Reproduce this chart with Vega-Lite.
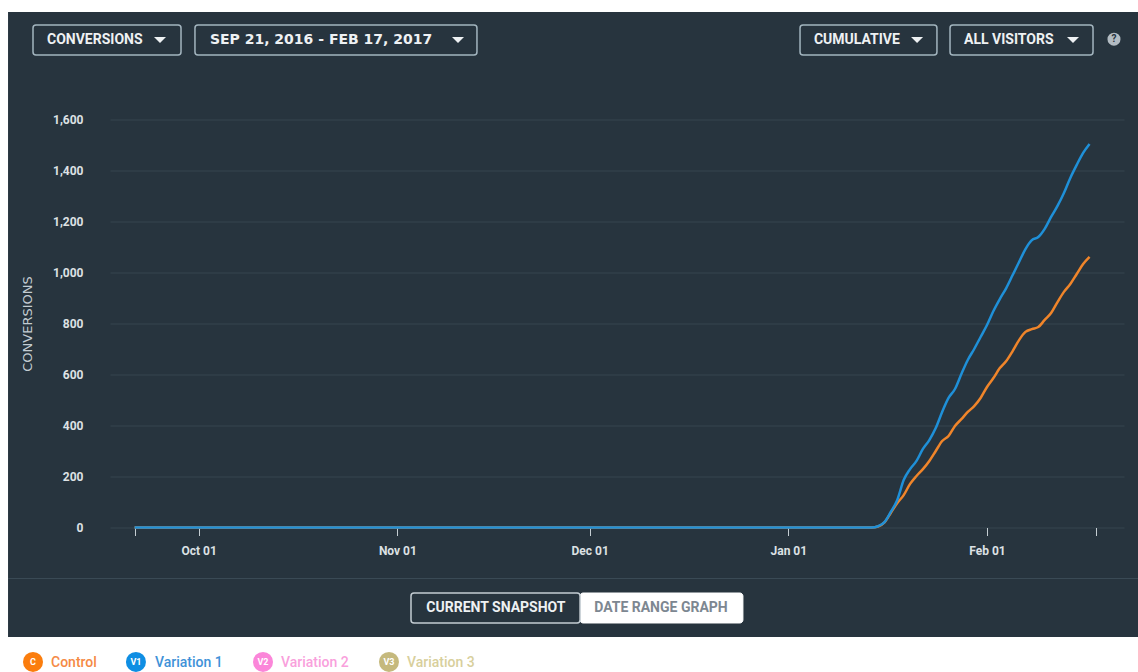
{"$schema":"https://vega.github.io/schema/vega-lite/v6.json","width":1014,"height":408,"autosize":{"type":"none"},"padding":{"left":110,"top":119.5,"right":14,"bottom":144.5},"background":"#27343e","config":{"view":{"stroke":null},"font":"Roboto"},
"datasets":{"one":[{}],"series":[
{"series":"Control","date":"2016-09-21","conversions":0},{"series":"Control","date":"2016-10-01","conversions":0},{"series":"Control","date":"2016-11-01","conversions":0},{"series":"Control","date":"2016-12-01","conversions":0},{"series":"Control","date":"2017-01-01","conversions":0},{"series":"Control","date":"2017-01-14","conversions":0},{"series":"Control","date":"2017-01-15","conversions":4},{"series":"Control","date":"2017-01-16","conversions":20},{"series":"Control","date":"2017-01-17","conversions":58},{"series":"Control","date":"2017-01-18","conversions":96},{"series":"Control","date":"2017-01-19","conversions":127},{"series":"Control","date":"2017-01-20","conversions":171},{"series":"Control","date":"2017-01-21","conversions":202},{"series":"Control","date":"2017-01-22","conversions":229},{"series":"Control","date":"2017-01-23","conversions":261},{"series":"Control","date":"2017-01-24","conversions":300},{"series":"Control","date":"2017-01-25","conversions":339},{"series":"Control","date":"2017-01-26","conversions":359},{"series":"Control","date":"2017-01-27","conversions":398},{"series":"Control","date":"2017-01-28","conversions":425},{"series":"Control","date":"2017-01-29","conversions":453},{"series":"Control","date":"2017-01-30","conversions":476},{"series":"Control","date":"2017-01-31","conversions":508},{"series":"Control","date":"2017-02-01","conversions":551},{"series":"Control","date":"2017-02-02","conversions":586},{"series":"Control","date":"2017-02-03","conversions":625},{"series":"Control","date":"2017-02-04","conversions":653},{"series":"Control","date":"2017-02-05","conversions":692},{"series":"Control","date":"2017-02-06","conversions":735},{"series":"Control","date":"2017-02-07","conversions":767},{"series":"Control","date":"2017-02-08","conversions":778},{"series":"Control","date":"2017-02-09","conversions":786},{"series":"Control","date":"2017-02-10","conversions":814},{"series":"Control","date":"2017-02-11","conversions":841},{"series":"Control","date":"2017-02-12","conversions":884},{"series":"Control","date":"2017-02-13","conversions":924},{"series":"Control","date":"2017-02-14","conversions":955},{"series":"Control","date":"2017-02-15","conversions":994},{"series":"Control","date":"2017-02-16","conversions":1033},{"series":"Control","date":"2017-02-17","conversions":1061},
{"series":"Variation 1","date":"2016-09-21","conversions":0},{"series":"Variation 1","date":"2016-10-01","conversions":0},{"series":"Variation 1","date":"2016-11-01","conversions":0},{"series":"Variation 1","date":"2016-12-01","conversions":0},{"series":"Variation 1","date":"2017-01-01","conversions":0},{"series":"Variation 1","date":"2017-01-14","conversions":0},{"series":"Variation 1","date":"2017-01-15","conversions":5},{"series":"Variation 1","date":"2017-01-16","conversions":21},{"series":"Variation 1","date":"2017-01-17","conversions":62},{"series":"Variation 1","date":"2017-01-18","conversions":108},{"series":"Variation 1","date":"2017-01-19","conversions":186},{"series":"Variation 1","date":"2017-01-20","conversions":229},{"series":"Variation 1","date":"2017-01-21","conversions":261},{"series":"Variation 1","date":"2017-01-22","conversions":308},{"series":"Variation 1","date":"2017-01-23","conversions":343},{"series":"Variation 1","date":"2017-01-24","conversions":390},{"series":"Variation 1","date":"2017-01-25","conversions":453},{"series":"Variation 1","date":"2017-01-26","conversions":508},{"series":"Variation 1","date":"2017-01-27","conversions":543},{"series":"Variation 1","date":"2017-01-28","conversions":602},{"series":"Variation 1","date":"2017-01-29","conversions":657},{"series":"Variation 1","date":"2017-01-30","conversions":700},{"series":"Variation 1","date":"2017-01-31","conversions":747},{"series":"Variation 1","date":"2017-02-01","conversions":794},{"series":"Variation 1","date":"2017-02-02","conversions":849},{"series":"Variation 1","date":"2017-02-03","conversions":896},{"series":"Variation 1","date":"2017-02-04","conversions":939},{"series":"Variation 1","date":"2017-02-05","conversions":990},{"series":"Variation 1","date":"2017-02-06","conversions":1041},{"series":"Variation 1","date":"2017-02-07","conversions":1092},{"series":"Variation 1","date":"2017-02-08","conversions":1127},{"series":"Variation 1","date":"2017-02-09","conversions":1139},{"series":"Variation 1","date":"2017-02-10","conversions":1171},{"series":"Variation 1","date":"2017-02-11","conversions":1218},{"series":"Variation 1","date":"2017-02-12","conversions":1261},{"series":"Variation 1","date":"2017-02-13","conversions":1312},{"series":"Variation 1","date":"2017-02-14","conversions":1371},{"series":"Variation 1","date":"2017-02-15","conversions":1422},{"series":"Variation 1","date":"2017-02-16","conversions":1469},{"series":"Variation 1","date":"2017-02-17","conversions":1504}
]},
"layer":[
{"data":{"name":"series"},"mark":{"type":"line","strokeWidth":2.5,"interpolate":"monotone"},"encoding":{
"x":{"field":"date","type":"temporal","scale":{"type":"utc","domain":[{"year":2016,"month":9,"date":17,"hours":3,"minutes":50,"utc":true},{"year":2017,"month":2,"date":22,"hours":9,"utc":true}]},"axis":{"title":null,"values":[{"year":2016,"month":9,"date":21,"utc":true},{"year":2016,"month":10,"date":1,"utc":true},{"year":2016,"month":11,"date":1,"utc":true},{"year":2016,"month":12,"date":1,"utc":true},{"year":2017,"month":1,"date":1,"utc":true},{"year":2017,"month":2,"date":1,"utc":true},{"year":2017,"month":2,"date":18,"utc":true}],"format":"%b %d","labelExpr":"utcdate(datum.value)==1?datum.label:''","grid":false,"domain":false,"tickColor":"#c5cdd2","tickSize":8,"tickWidth":1,"labelPadding":10,"labelFont":"Roboto","labelFontWeight":"bold","labelFontSize":12,"labelColor":"#dde1e4"}},
"y":{"field":"conversions","type":"quantitative","scale":{"domain":[0,1600],"nice":false},"axis":{"title":"CONVERSIONS","values":[0,200,400,600,800,1000,1200,1400,1600],"format":",d","grid":true,"gridColor":"#36454f","gridWidth":1,"ticks":false,"domain":false,"labelPadding":27,"labelFont":"Roboto","labelFontWeight":"bold","labelFontSize":12,"labelColor":"#dde1e4","titleFont":"DejaVu Sans","titleFontWeight":"normal","titleFontSize":13,"titleColor":"#c3ccd2","titlePadding":18}},
"color":{"field":"series","type":"nominal","sort":null,"scale":{"domain":["Control","Variation 1","Variation 2","Variation 3"],"range":["#f0852a","#1f90d8","#fb86d9","#c5b97d"]},"legend":{"title":null,"orient":"none","legendX":-87,"legendY":533,"direction":"horizontal","columns":4,"symbolType":"circle","symbolSize":400,"symbolStrokeWidth":0,"symbolOpacity":0,"symbolFillColor":"transparent","labelFont":"Roboto","labelFontWeight":500,"labelFontSize":14,"labelOffset":8,"columnPadding":30,"labelColor":{"expr":"datum.label=='Control'?'#f58a45':datum.label=='Variation 1'?'#3f92d8':datum.label=='Variation 2'?'#f9a0dc':'#d8cf9c'"}}}}},
{"data":{"name":"one"},"mark":{"type":"rect","fill":"#ffffff"},"encoding":{"x":{"datum":{"year":2016,"month":8,"date":25,"utc":true},"type":"temporal"},"x2":{"datum":{"year":2017,"month":3,"date":5,"utc":true}},"y":{"datum":2200},"y2":{"datum":2021.6}}},
{"data":{"name":"one"},"mark":{"type":"rect","fill":"#ffffff"},"encoding":{"x":{"datum":{"year":2016,"month":8,"date":25,"utc":true},"type":"temporal"},"x2":{"datum":{"year":2017,"month":3,"date":5,"utc":true}},"y":{"datum":-429.4},"y2":{"datum":-700}}},
{"data":{"name":"one"},"mark":{"type":"rect","fill":"#ffffff"},"encoding":{"x":{"datum":{"year":2016,"month":8,"date":25,"utc":true},"type":"temporal"},"x2":{"datum":{"year":2016,"month":9,"date":1,"hours":6,"utc":true}},"y":{"datum":2200},"y2":{"datum":-700}}},
{"data":{"name":"one"},"mark":{"type":"rule","stroke":"#3a4a55","strokeWidth":1},"encoding":{"x":{"datum":{"year":2016,"month":9,"date":1,"hours":6,"utc":true},"type":"temporal"},"x2":{"datum":{"year":2017,"month":3,"date":5,"utc":true}},"y":{"datum":-200}}},
{"data":{"name":"one"},"mark":{"type":"rect","fill":"transparent","stroke":"#a3b5bf","strokeWidth":1.5,"cornerRadius":3},"encoding":{"x":{"datum":{"year":2016,"month":9,"date":5,"hours":3,"minutes":30,"utc":true},"type":"temporal"},"x2":{"datum":{"year":2016,"month":9,"date":28,"hours":5,"minutes":45,"utc":true}},"y":{"datum":1970.6},"y2":{"datum":1853}}},
{"data":{"name":"one"},"mark":{"type":"rect","fill":"transparent","stroke":"#a3b5bf","strokeWidth":1.5,"cornerRadius":3},"encoding":{"x":{"datum":{"year":2016,"month":9,"date":30,"hours":10,"utc":true},"type":"temporal"},"x2":{"datum":{"year":2016,"month":11,"date":13,"hours":10,"utc":true}},"y":{"datum":1970.6},"y2":{"datum":1853}}},
{"data":{"name":"one"},"mark":{"type":"rect","fill":"transparent","stroke":"#a3b5bf","strokeWidth":1.5,"cornerRadius":3},"encoding":{"x":{"datum":{"year":2017,"month":1,"date":2,"hours":19,"minutes":50,"utc":true},"type":"temporal"},"x2":{"datum":{"year":2017,"month":1,"date":24,"hours":4,"minutes":30,"utc":true}},"y":{"datum":1970.6},"y2":{"datum":1853}}},
{"data":{"name":"one"},"mark":{"type":"rect","fill":"transparent","stroke":"#a3b5bf","strokeWidth":1.5,"cornerRadius":3},"encoding":{"x":{"datum":{"year":2017,"month":1,"date":26,"hours":5,"minutes":30,"utc":true},"type":"temporal"},"x2":{"datum":{"year":2017,"month":2,"date":17,"hours":13,"utc":true}},"y":{"datum":1970.6},"y2":{"datum":1853}}},
{"data":{"values":[{"label":"CONVERSIONS"}]},"mark":{"type":"text","align":"left","baseline":"middle","font":"Roboto","fontWeight":"bold","fontSize":14,"fill":"#eef1f3"},"encoding":{"text":{"field":"label"},"x":{"datum":{"year":2016,"month":9,"date":7,"hours":8,"utc":true},"type":"temporal"},"y":{"datum":1911.8}}},
{"data":{"values":[{"label":"SEP 21, 2016 - FEB 17, 2017"}]},"mark":{"type":"text","align":"left","baseline":"middle","font":"DejaVu Sans","fontWeight":"bold","fontSize":14,"fill":"#eef1f3"},"encoding":{"text":{"field":"label"},"x":{"datum":{"year":2016,"month":10,"date":2,"hours":18,"utc":true},"type":"temporal"},"y":{"datum":1911.8}}},
{"data":{"values":[{"label":"CUMULATIVE"}]},"mark":{"type":"text","align":"left","baseline":"middle","font":"Roboto","fontWeight":"bold","fontSize":14,"fill":"#eef1f3"},"encoding":{"text":{"field":"label"},"x":{"datum":{"year":2017,"month":1,"date":4,"hours":23,"minutes":45,"utc":true},"type":"temporal"},"y":{"datum":1911.8}}},
{"data":{"values":[{"label":"ALL VISITORS"}]},"mark":{"type":"text","align":"left","baseline":"middle","font":"Roboto","fontWeight":"bold","fontSize":14,"fill":"#eef1f3"},"encoding":{"text":{"field":"label"},"x":{"datum":{"year":2017,"month":1,"date":28,"hours":10,"utc":true},"type":"temporal"},"y":{"datum":1911.8}}},
{"data":{"name":"one"},"mark":{"type":"point","shape":"M-1,-0.5L1,-0.5L0,0.5Z","filled":true,"fill":"#eef1f3","opacity":1,"size":144},"encoding":{"x":{"datum":{"year":2016,"month":9,"date":24,"hours":23,"utc":true},"type":"temporal"},"y":{"datum":1911.8}}},
{"data":{"name":"one"},"mark":{"type":"point","shape":"M-1,-0.5L1,-0.5L0,0.5Z","filled":true,"fill":"#eef1f3","opacity":1,"size":144},"encoding":{"x":{"datum":{"year":2016,"month":11,"date":10,"hours":11,"utc":true},"type":"temporal"},"y":{"datum":1911.8}}},
{"data":{"name":"one"},"mark":{"type":"point","shape":"M-1,-0.5L1,-0.5L0,0.5Z","filled":true,"fill":"#eef1f3","opacity":1,"size":144},"encoding":{"x":{"datum":{"year":2017,"month":1,"date":21,"hours":2,"utc":true},"type":"temporal"},"y":{"datum":1911.8}}},
{"data":{"name":"one"},"mark":{"type":"point","shape":"M-1,-0.5L1,-0.5L0,0.5Z","filled":true,"fill":"#eef1f3","opacity":1,"size":144},"encoding":{"x":{"datum":{"year":2017,"month":2,"date":14,"hours":10,"utc":true},"type":"temporal"},"y":{"datum":1911.8}}},
{"data":{"name":"one"},"mark":{"type":"point","shape":"circle","filled":true,"fill":"#b3bcc3","opacity":1,"size":170},"encoding":{"x":{"datum":{"year":2017,"month":2,"date":20,"hours":19,"minutes":30,"utc":true},"type":"temporal"},"y":{"datum":1915}}},
{"data":{"values":[{"label":"?"}]},"mark":{"type":"text","align":"center","baseline":"middle","font":"Roboto","fontWeight":"bold","fontSize":10,"fill":"#27343e"},"encoding":{"text":{"field":"label"},"x":{"datum":{"year":2017,"month":2,"date":20,"hours":19,"minutes":30,"utc":true},"type":"temporal"},"y":{"datum":1915}}},
{"data":{"name":"one"},"mark":{"type":"rect","fill":"#ffffff","stroke":"#ffffff","strokeWidth":1,"cornerRadius":3},"encoding":{"x":{"datum":{"year":2016,"month":11,"date":29,"hours":12,"utc":true},"type":"temporal"},"x2":{"datum":{"year":2016,"month":12,"date":24,"hours":22,"utc":true}},"y":{"datum":-256.9},"y2":{"datum":-374.5}}},
{"data":{"name":"one"},"mark":{"type":"rect","fill":"#27343e","stroke":"#c3ccd2","strokeWidth":1.5,"cornerRadius":3},"encoding":{"x":{"datum":{"year":2016,"month":11,"date":3,"hours":3,"utc":true},"type":"temporal"},"x2":{"datum":{"year":2016,"month":11,"date":29,"hours":12,"utc":true}},"y":{"datum":-256.9},"y2":{"datum":-374.5}}},
{"data":{"values":[{"label":"CURRENT SNAPSHOT"}]},"mark":{"type":"text","align":"center","baseline":"middle","font":"Roboto","fontWeight":"bold","fontSize":14,"fill":"#eef1f3"},"encoding":{"text":{"field":"label"},"x":{"datum":{"year":2016,"month":11,"date":16,"hours":9,"utc":true},"type":"temporal"},"y":{"datum":-315.7}}},
{"data":{"values":[{"label":"DATE RANGE GRAPH"}]},"mark":{"type":"text","align":"center","baseline":"middle","font":"Roboto","fontWeight":"bold","fontSize":14,"fill":"#7d8791"},"encoding":{"text":{"field":"label"},"x":{"datum":{"year":2016,"month":12,"date":12,"hours":3,"utc":true},"type":"temporal"},"y":{"datum":-315.7}}},
{"data":{"name":"one"},"mark":{"type":"point","shape":"circle","filled":true,"fill":"#fb7d0d","opacity":1,"size":400},"encoding":{"x":{"datum":{"year":2016,"month":9,"date":5,"hours":3,"minutes":30,"utc":true},"type":"temporal"},"y":{"datum":-527}}},
{"data":{"name":"one"},"mark":{"type":"point","shape":"circle","filled":true,"fill":"#0f8ee3","opacity":1,"size":400},"encoding":{"x":{"datum":{"year":2016,"month":9,"date":21,"hours":5,"utc":true},"type":"temporal"},"y":{"datum":-527}}},
{"data":{"name":"one"},"mark":{"type":"point","shape":"circle","filled":true,"fill":"#fb86d9","opacity":1,"size":400},"encoding":{"x":{"datum":{"year":2016,"month":10,"date":11,"minutes":45,"utc":true},"type":"temporal"},"y":{"datum":-527}}},
{"data":{"name":"one"},"mark":{"type":"point","shape":"circle","filled":true,"fill":"#c5b97d","opacity":1,"size":400},"encoding":{"x":{"datum":{"year":2016,"month":10,"date":30,"hours":16,"minutes":30,"utc":true},"type":"temporal"},"y":{"datum":-527}}},
{"data":{"values":[{"label":"C"}]},"mark":{"type":"text","align":"center","baseline":"middle","font":"Roboto","fontWeight":"bold","fontSize":9,"fill":"#ffffff"},"encoding":{"text":{"field":"label"},"x":{"datum":{"year":2016,"month":9,"date":5,"hours":3,"minutes":30,"utc":true},"type":"temporal"},"y":{"datum":-527}}},
{"data":{"values":[{"label":"V1"}]},"mark":{"type":"text","align":"center","baseline":"middle","font":"Roboto","fontWeight":"bold","fontSize":9,"fill":"#ffffff"},"encoding":{"text":{"field":"label"},"x":{"datum":{"year":2016,"month":9,"date":21,"hours":5,"utc":true},"type":"temporal"},"y":{"datum":-527}}},
{"data":{"values":[{"label":"V2"}]},"mark":{"type":"text","align":"center","baseline":"middle","font":"Roboto","fontWeight":"bold","fontSize":9,"fill":"#ffffff"},"encoding":{"text":{"field":"label"},"x":{"datum":{"year":2016,"month":10,"date":11,"minutes":45,"utc":true},"type":"temporal"},"y":{"datum":-527}}},
{"data":{"values":[{"label":"V3"}]},"mark":{"type":"text","align":"center","baseline":"middle","font":"Roboto","fontWeight":"bold","fontSize":9,"fill":"#ffffff"},"encoding":{"text":{"field":"label"},"x":{"datum":{"year":2016,"month":10,"date":30,"hours":16,"minutes":30,"utc":true},"type":"temporal"},"y":{"datum":-527}}}
]}
